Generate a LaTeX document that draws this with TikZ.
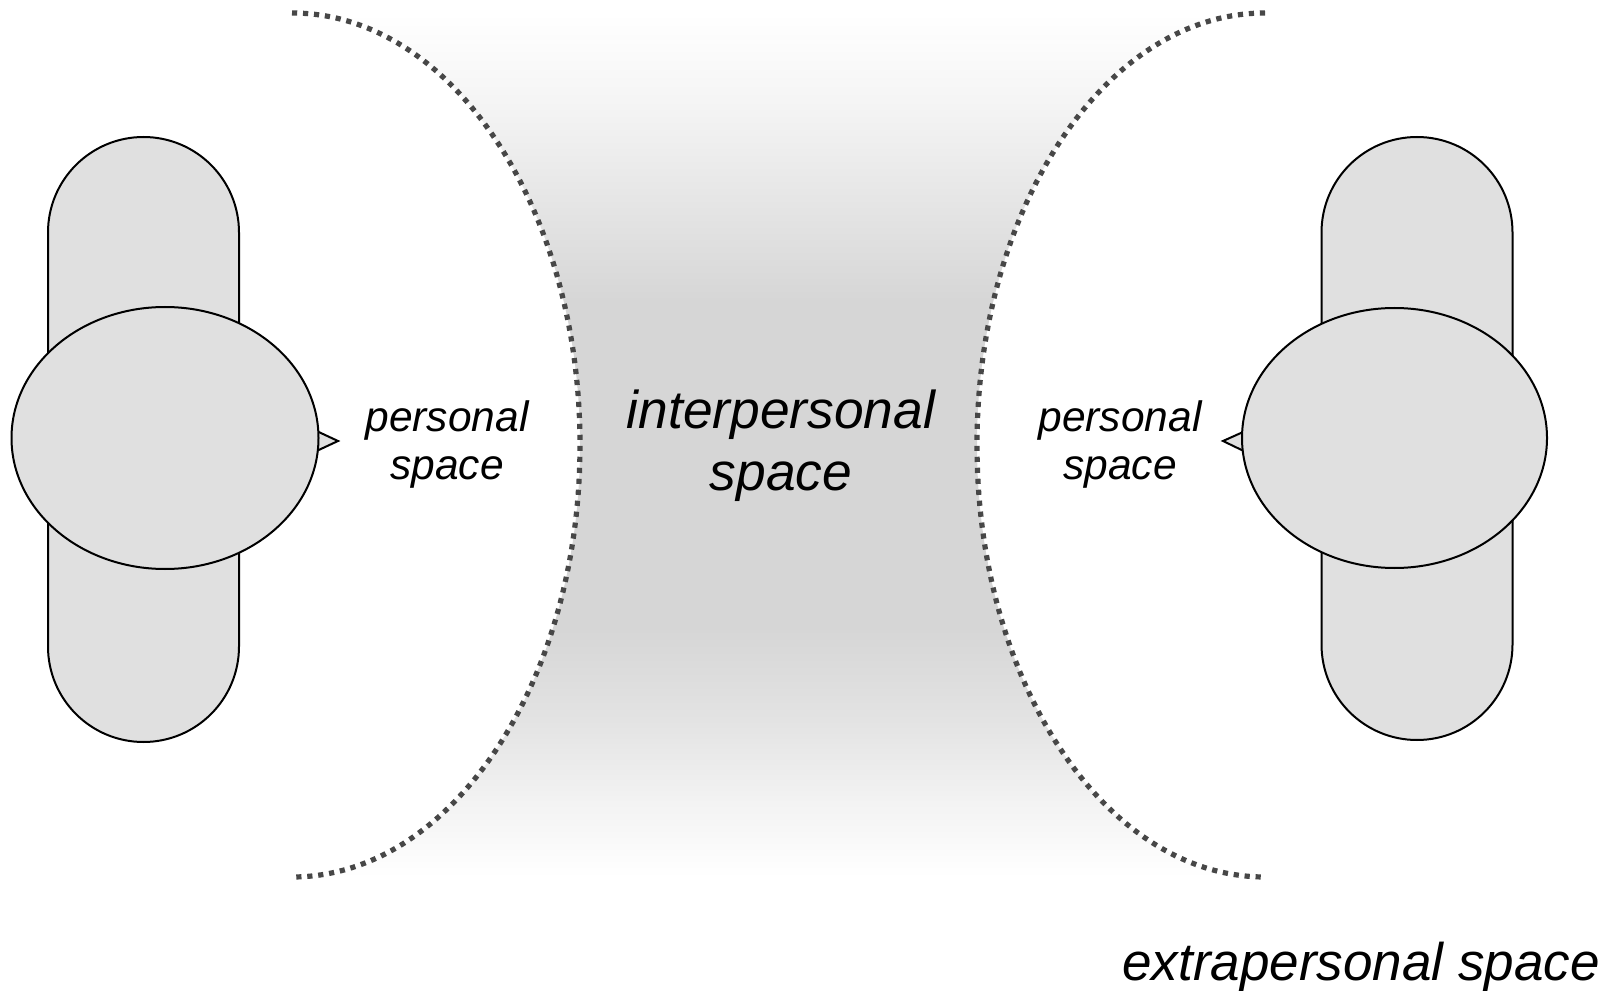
\documentclass[tikz,border=0pt]{standalone}
\usepackage{fontspec}
\setmainfont{Liberation Sans}
\usetikzlibrary{shapes.geometric}
\definecolor{bodygray}{HTML}{E0E0E0}
\definecolor{dotgray}{HTML}{474747}
\pgfdeclareverticalshading{ipshade}{100bp}{%
  color(0bp)=(white); color(25bp)=(white);
  color(29.5bp)=(black!5); color(34.1bp)=(black!11);
  color(39.3bp)=(black!16); color(58.4bp)=(black!16);
  color(64.1bp)=(black!10); color(69.9bp)=(black!4);
  color(75bp)=(white); color(100bp)=(white)}
\tikzset{
  bodybox/.style={draw=black, line width=1pt, fill=bodygray, rectangle,
    rounded corners=47.75pt, minimum width=95.5pt, inner sep=0pt, outer sep=0pt},
  headbox/.style={draw=black, line width=1pt, fill=bodygray, ellipse,
    inner sep=0pt, outer sep=0pt},
  nosebox/.style={draw=black, line width=1pt, fill=bodygray, line join=miter},
  boundary/.style={draw=dotgray, line width=2.6pt, dash pattern=on 2.6pt off 2.9pt},
  smalllabel/.style={font=\itshape\fontsize{21.25}{24}\selectfont, align=center, inner sep=0pt},
  biglabel/.style={font=\itshape\fontsize{26.65}{31}\selectfont, align=center, inner sep=0pt}
}
\begin{document}
\begin{tikzpicture}[x=0.5pt,y=-0.5pt]
\useasboundingbox (0,0) rectangle (1616,1005);
% interpersonal region shading
\shade[shading=ipshade] (292,13) arc[start angle=90, end angle=-90, x radius=144pt, y radius=216pt]
  -- (1265,877) arc[start angle=270, end angle=90, x radius=144pt, y radius=216pt] -- cycle;
% boundaries
\draw[boundary] (292,13) arc[start angle=90, end angle=-90, x radius=144pt, y radius=216pt];
\draw[boundary] (1265,13) arc[start angle=90, end angle=270, x radius=144pt, y radius=216pt];
% left person
\node[bodybox, minimum height=302.5pt] (bodyL) at (143.5,439.5) {};
\draw[nosebox] (308,427) -- (338,441) -- (308,455) -- cycle;
\node[headbox, minimum width=153.5pt, minimum height=131pt] (headL) at (165,438) {};
% right person
\node[bodybox, minimum height=301.5pt] (bodyR) at (1417,438.5) {};
\draw[nosebox] (1252,428) -- (1223,441) -- (1252,455) -- cycle;
\node[headbox, minimum width=152.5pt, minimum height=130pt] (headR) at (1394.5,438) {};
% labels
\node[smalllabel] (persL) at (447,445) {personal\\space};
\node[smalllabel] (persR) at (1120,445) {personal\\space};
\node[biglabel] (inter) at (781,445.5) {interpersonal\\space};
\node[font=\itshape\fontsize{26.5}{31}\selectfont, inner sep=0pt, anchor=base east] (extra) at (1600,980) {extrapersonal space};
\end{tikzpicture}
\end{document}
